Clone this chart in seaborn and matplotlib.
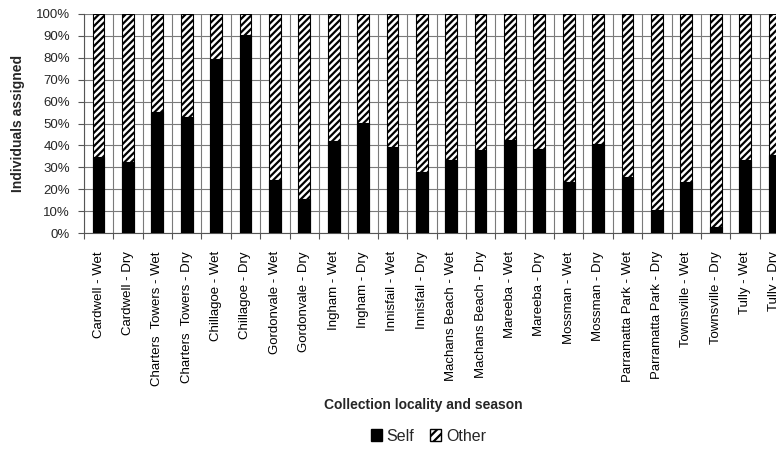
import matplotlib
matplotlib.use('Agg')
import matplotlib.pyplot as plt
from matplotlib.patches import Patch
from matplotlib.ticker import PercentFormatter, MultipleLocator, FixedLocator
import seaborn as sns
import pandas as pd
import numpy as np

# Data (percent of individuals assigned)
localities = ['Cardwell - Wet', 'Cardwell - Dry',
              'Charters  Towers - Wet', 'Charters  Towers - Dry',
              'Chillagoe - Wet', 'Chillagoe - Dry',
              'Gordonvale - Wet', 'Gordonvale - Dry',
              'Ingham - Wet', 'Ingham - Dry',
              'Innisfail - Wet', 'Innisfail - Dry',
              'Machans Beach - Wet', 'Machans Beach - Dry',
              'Mareeba - Wet', 'Mareeba - Dry',
              'Mossman - Wet', 'Mossman - Dry',
              'Parramatta Park - Wet', 'Parramatta Park - Dry',
              'Townsville - Wet', 'Townsville - Dry',
              'Tully - Wet', 'Tully - Dry']
self_pct = [34.8, 32.6, 55.4, 53.1, 79.5, 90.3, 24.2, 15.5, 42.1, 50.3,
            39.4, 28.0, 33.6, 37.9, 42.5, 38.2, 23.4, 40.6, 25.4, 10.5,
            23.4, 2.6, 33.6, 35.6]
other_pct = [100 - v for v in self_pct]

df = pd.DataFrame({'locality': localities, 'Self': self_pct, 'Other': other_pct})
df['total'] = df['Self'] + df['Other']

sns.set_style('white')
plt.rcParams['font.family'] = ['Liberation Sans', 'DejaVu Sans']
plt.rcParams['hatch.linewidth'] = 1.6

fig = plt.figure(figsize=(7.76, 4.51), dpi=100)
# axes runs past the right edge, as in the reference (last bar is clipped)
ax = fig.add_axes([0.108, 0.483, 0.909, 0.486])

# stacked: draw full height hatched (Other on top), then Self in black
sns.barplot(data=df, x='locality', y='total', color='white', edgecolor='black',
            linewidth=0.8, hatch='/////', width=0.4, ax=ax, zorder=3)
sns.barplot(data=df, x='locality', y='Self', color='black', edgecolor='black',
            linewidth=0.8, width=0.4, ax=ax, zorder=4, saturation=1)

ax.set_xlim(-0.5, len(localities) - 0.5)
ax.set_ylim(0, 100)
ax.yaxis.set_major_locator(MultipleLocator(10))
ax.yaxis.set_major_formatter(PercentFormatter(decimals=0))

# category boundaries as minor ticks + vertical grid
ax.xaxis.set_minor_locator(FixedLocator(np.arange(-0.5, len(localities), 1.0)))
ax.tick_params(axis='x', which='major', length=0, pad=13, labelsize=9.5,
               labelrotation=90, colors='black')
ax.tick_params(axis='x', which='minor', length=4, width=0.8, color='#555555',
               direction='out', bottom=True)
ax.tick_params(axis='y', which='major', length=4, width=0.8, color='#555555',
               direction='out', left=True, labelsize=9.5, pad=6)
ax.grid(True, axis='y', which='major', color='#7a7a7a', linewidth=0.8, zorder=0)
ax.grid(True, axis='x', which='minor', color='#7a7a7a', linewidth=0.8, zorder=0)
ax.set_axisbelow(True)

for s in ['top', 'right']:
    ax.spines[s].set_visible(False)
for s in ['left', 'bottom']:
    ax.spines[s].set_color('#555555')
    ax.spines[s].set_linewidth(0.8)

ax.set_xlabel('')
ax.set_ylabel('Individuals assigned', fontsize=10, fontweight='bold', labelpad=8)

fig.text(0.545, 0.102, 'Collection locality and season', ha='center', va='center',
         fontsize=10, fontweight='bold')

handles = [Patch(facecolor='black', edgecolor='black', label='Self'),
           Patch(facecolor='white', edgecolor='black', hatch='////', label='Other')]
fig.legend(handles=handles, loc='center', bbox_to_anchor=(0.552, 0.033), ncol=2,
           frameon=False, fontsize=11.5, handlelength=0.7, handleheight=0.7,
           handletextpad=0.3, columnspacing=1.0)

fig.savefig('out.png', dpi=100)
